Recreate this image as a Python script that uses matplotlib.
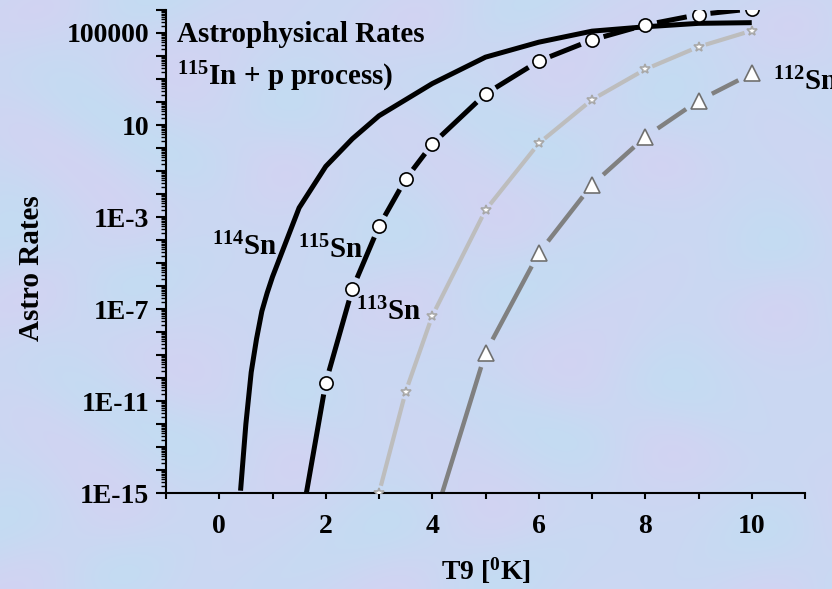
import numpy as np
import matplotlib
matplotlib.use("Agg")
import matplotlib.pyplot as plt
from matplotlib.ticker import FixedLocator, FuncFormatter, LogLocator, MultipleLocator

plt.rcParams["font.family"] = ["Liberation Serif", "DejaVu Serif"]
plt.rcParams["font.weight"] = "bold"
plt.rcParams["axes.labelweight"] = "bold"
plt.rcParams["mathtext.fontset"] = "custom"
plt.rcParams["mathtext.rm"] = "Liberation Serif"
plt.rcParams["mathtext.bf"] = "Liberation Serif:bold"
plt.rcParams["mathtext.default"] = "bf"

# log10 of the astrophysical rates
t9_114 = [0.4, 0.5, 0.6, 0.7, 0.8, 0.9, 1.0, 1.5, 2.0, 2.5, 3.0, 3.5, 4.0, 5.0, 6.0, 7.0, 8.0, 9.0, 10.0]
log_114 = [-14.9, -12.0, -9.75, -8.3, -7.1, -6.3, -5.6, -2.6, -0.8, 0.4, 1.4, 2.1, 2.8, 3.95, 4.6, 5.08, 5.27, 5.42, 5.45]

t9_115 = [1.5, 2.0, 2.5, 3.0, 3.5, 4.0, 5.0, 6.0, 7.0, 8.0, 9.0, 10.0]
log_115 = [-16.8, -10.2, -6.13, -3.4, -1.35, 0.17, 2.35, 3.78, 4.7, 5.35, 5.8, 6.05]

t9_113 = [3.0, 3.5, 4.0, 5.0, 6.0, 7.0, 8.0, 9.0, 10.0]
log_113 = [-15.0, -10.6, -7.3, -2.7, 0.2, 2.1, 3.42, 4.4, 5.1]

t9_112 = [4.0, 5.0, 6.0, 7.0, 8.0, 9.0, 10.0]
log_112 = [-16.4, -8.9, -4.57, -1.6, 0.48, 2.06, 3.24]

ytick_exps = [-15, -11, -7, -3, 1, 5]
ytick_labels = ["1E-15", "1E-11", "1E-7", "1E-3", "10", "100000"]
xtick_vals = [0, 2, 4, 6, 8, 10]

BG = "#c9d7f2"


def draw_series(ax, x, logy, color, lw, z, marker=None, ms=0, mec="k", gap=0):
    """Line through the points, broken around each symbol (gap in pixels)."""
    y = 10.0 ** np.asarray(logy)
    if not marker:
        ax.plot(x, y, "-", color=color, lw=lw, zorder=z, solid_capstyle="butt")
        return
    pts = ax.transData.transform(np.column_stack([x, y]))
    inv = ax.transData.inverted()
    for p0, p1 in zip(pts[:-1], pts[1:]):
        d = p1 - p0
        L = np.hypot(*d)
        if L <= 2 * gap:
            continue
        u = d / L
        seg = inv.transform(np.array([p0 + u * gap, p1 - u * gap]))
        ax.plot(seg[:, 0], seg[:, 1], "-", color=color, lw=lw, zorder=z,
                solid_capstyle="butt")
    ax.plot(x, y, marker, ms=ms, mfc="white", mec=mec, mew=1.2, zorder=10)


fig = plt.figure(figsize=(8.32, 5.89), dpi=100)
fig.patch.set_facecolor(BG)

# faint marbled backdrop
bg_ax = fig.add_axes([0, 0, 1, 1], zorder=-5)
yy, xx = np.mgrid[0:589, 0:832] / 40.0
pat = np.sin(xx * 1.3 + 2.0 * np.sin(yy * 0.9)) + np.sin(yy * 1.7 + 1.5 * np.cos(xx * 0.7))
pat = (pat - pat.min()) / (pat.max() - pat.min())
c1 = np.array([0.77, 0.86, 0.95])
c2 = np.array([0.82, 0.83, 0.95])
img = c1 * (1 - pat[..., None]) + c2 * pat[..., None]
bg_ax.imshow(img, aspect="auto", interpolation="bilinear")
bg_ax.axis("off")

ax = fig.add_axes([166 / 832, 96 / 589, 639 / 832, 483 / 589])
ax.set_facecolor("none")
ax.set_yscale("log")
ax.set_xlim(-1, 11)
ax.set_ylim(1e-15, 1e6)

draw_series(ax, t9_115, log_115, "black", 3.6, 2, "o", 9.5, "black", 12)
draw_series(ax, t9_114, log_114, "black", 3.6, 3)
draw_series(ax, t9_113, log_113, "#bdbdbd", 3.0, 2, "*", 7.5, "#a8a8a8", 7.5)
draw_series(ax, t9_112, log_112, "#808080", 3.2, 2, "^", 12, "#707070", 15)

ax.set_xlim(-1, 11)
ax.set_ylim(1e-15, 1e6)

ax.yaxis.set_major_locator(FixedLocator(10.0 ** np.arange(-15, 7)))
labels = dict(zip(ytick_exps, ytick_labels))
ax.yaxis.set_major_formatter(
    FuncFormatter(lambda v, p: labels.get(int(round(np.log10(v))), ""))
)
ax.yaxis.set_minor_locator(LogLocator(base=10, subs=np.arange(2, 10), numticks=200))
ax.xaxis.set_major_locator(FixedLocator(xtick_vals))
ax.xaxis.set_minor_locator(MultipleLocator(1))

for side in ["top", "right"]:
    ax.spines[side].set_visible(False)
for side in ["left", "bottom"]:
    ax.spines[side].set_linewidth(1.5)

ax.tick_params(axis="y", which="major", length=7, width=1.5, pad=5, labelsize=20)
ax.tick_params(axis="y", which="minor", length=3.5, width=1)
ax.tick_params(axis="x", which="major", length=4, width=1.5, pad=11, labelsize=20)
ax.tick_params(axis="x", which="minor", length=4, width=1.5)

ax.set_xlabel("T9 [$^0$K]", fontsize=20, fontweight="bold")
ax.xaxis.set_label_coords(0.5, -0.13)
ax.set_ylabel("Astro Rates", fontsize=21, fontweight="bold")
ax.yaxis.set_label_coords(-0.19, 0.466)

ax.text(-0.79, 10 ** 4.6, "Astrophysical Rates", fontsize=21, va="baseline")
ax.text(-0.79, 10 ** 2.74, r"$^{115}$In + p process$\mathrm{)}$", fontsize=21, va="baseline")
ax.text(-0.13, 10 ** -4.65, r"$^{114}$Sn", fontsize=21, va="baseline")
ax.text(1.47, 10 ** -4.78, r"$^{115}$Sn", fontsize=21, va="baseline")
ax.text(2.57, 10 ** -7.48, r"$^{113}$Sn", fontsize=21, va="baseline")
ax.text(10.4, 10 ** 2.52, r"$^{112}$Sn", fontsize=21, va="baseline", clip_on=False)

fig.savefig("out.png", dpi=100, facecolor=BG)
